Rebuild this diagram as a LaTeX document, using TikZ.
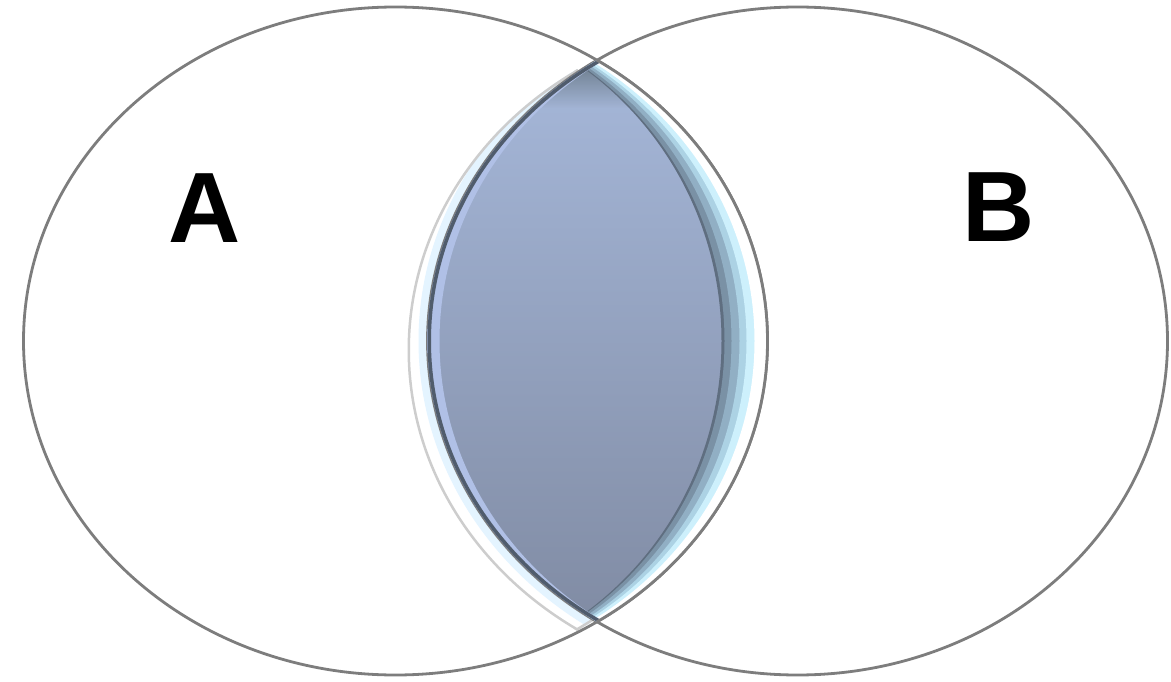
\documentclass[tikz,border=0pt]{standalone}
\usepackage{fontspec}
\setmainfont{Liberation Sans}
\usetikzlibrary{fadings}
\definecolor{ellcol}{RGB}{125,125,125}
\definecolor{shadowcol}{RGB}{205,205,205}
\definecolor{glowcol}{RGB}{228,244,255}
\definecolor{lensTop}{RGB}{166,184,218}
\definecolor{lensBot}{RGB}{128,139,163}
\definecolor{topdk}{RGB}{80,96,102}
\definecolor{bevD}{RGB}{95,110,128}
\definecolor{bevA}{RGB}{122,145,165}
\definecolor{bevB}{RGB}{145,175,196}
\definecolor{bevC}{RGB}{172,210,228}
\definecolor{bevE}{RGB}{205,240,252}
\definecolor{ledge}{RGB}{176,192,230}
\definecolor{ldark}{RGB}{80,92,108}
\tikzfading[name=topdark, top color=transparent!25, bottom color=transparent!100]
\tikzset{
  outline/.style={draw=ellcol, line width=2.8},
  shadowline/.style={draw=shadowcol, line width=5},
  label/.style={font=\bfseries\fontsize{100}{100}\selectfont, inner sep=0pt}
}
\begin{document}
\begin{tikzpicture}[x=1pt,y=-1pt]
\useasboundingbox (0,0) rectangle (1171,682);
\def\EA{(395.5,341) ellipse [x radius=372, y radius=334]}
\def\EB{(797.5,341) ellipse [x radius=370, y radius=334]}
\def\SA{(375.5,350) ellipse [x radius=372, y radius=334]}
\def\SB{(777.5,350) ellipse [x radius=370, y radius=334]}
% shadow of the lens
\begin{scope}
  \clip \SA; \clip \SB;
  \fill[white] (0,0) rectangle (1171,682);
  \draw[glowcol, line width=18] \EB;
  \draw[shadowline] \SA;
  \draw[shadowline] \SB;
\end{scope}
% the two sets
\draw[outline] \EA;
\draw[outline] \EB;
% the intersection
\begin{scope}
  \clip \EA; \clip \EB;
  \fill[top color=lensTop, bottom color=lensBot] (420,55) rectangle (780,630);
  \fill[topdk, path fading=topdark] (420,58) rectangle (780,108);
  \fill[bevD, even odd rule] \EA (395.5,341) ellipse [x radius=326, y radius=334];
  \fill[bevA, even odd rule] \EA (395.5,341) ellipse [x radius=329, y radius=334];
  \fill[bevB, even odd rule] \EA (395.5,341) ellipse [x radius=336, y radius=334];
  \fill[bevC, even odd rule] \EA (395.5,341) ellipse [x radius=344, y radius=334];
  \fill[bevE, even odd rule] \EA (395.5,341) ellipse [x radius=351, y radius=334];
  \fill[white, even odd rule] \EA (395.5,341) ellipse [x radius=359, y radius=334];
  \fill[ledge, even odd rule] \EB (797.5,341) ellipse [x radius=358, y radius=334];
  \draw[ldark, line width=7] \EB;
\end{scope}
\begin{scope}
  \clip \EB;
  \draw[outline] \EA;
\end{scope}
% labels
\node[label] (A) at (205,208) {A};
\node[label] (B) at (999,207) {B};
\end{tikzpicture}
\end{document}
